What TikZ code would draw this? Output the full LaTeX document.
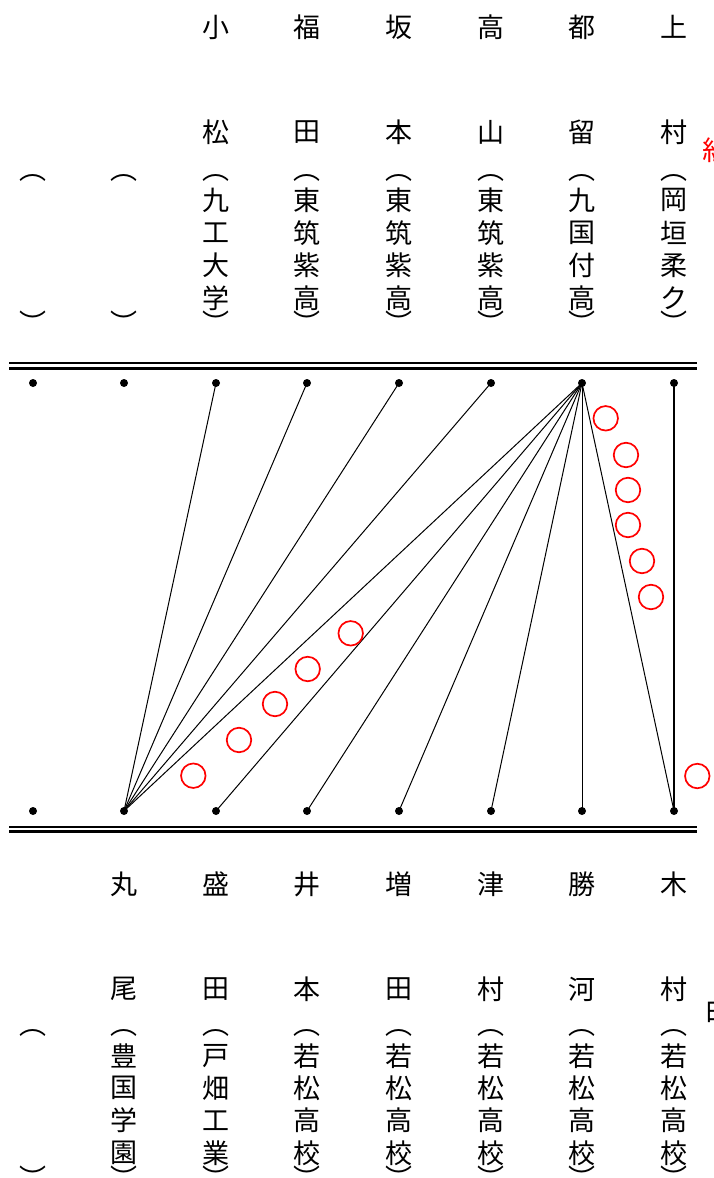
\documentclass[tikz,border=0pt]{standalone}
\usepackage{fontspec}
\newfontfamily\jp{Noto Sans CJK JP}
\tikzset{
  ch/.style={font=\jp\fontsize{27}{27}\selectfont, inner sep=0pt, anchor=center},
  dotnode/.style={circle, fill=black, inner sep=0pt, minimum size=8pt},
  link/.style={line width=1pt},
  thicklink/.style={line width=1.9pt},
  ring/.style={circle, draw=red, line width=1.7pt, minimum size=24.5pt, inner sep=0pt},
  bar/.style={line width=2.4pt}
}
\begin{document}
\begin{tikzpicture}[x=1pt,y=-1pt]
\useasboundingbox (0,0) rectangle (713,1178);

% double lines
\coordinate (tl1) at (9,363);   \coordinate (tr1) at (697,363);
\coordinate (tl2) at (9,368.5); \coordinate (tr2) at (697,368.5);
\coordinate (bl1) at (9,827);   \coordinate (br1) at (697,827);
\coordinate (bl2) at (9,831.5); \coordinate (br2) at (697,831.5);
\draw[bar] (tl1) -- (tr1);
\draw[bar] (tl2) -- (tr2);
\draw[bar] (bl1) -- (br1);
\draw[bar] (bl2) -- (br2);

% dots
\foreach \x [count=\i] in {33,124,216,307,399,491,582,674} {
  \node[dotnode] (t\i) at (\x,383) {};
  \node[dotnode] (b\i) at (\x,811) {};
}

% top names
\foreach \n/\x/\a/\b/\c/\d/\e/\f in {
  3/216/小/松/九/工/大/学,
  4/307/福/田/東/筑/紫/高,
  5/399/坂/本/東/筑/紫/高,
  6/491/高/山/東/筑/紫/高,
  7/582/都/留/九/国/付/高,
  8/674/上/村/岡/垣/柔/ク} {
  \node[ch] (tn\n a) at (\x,27) {\a};
  \node[ch] (tn\n b) at (\x,132) {\b};
  \node[ch] (ts\n a) at (\x,200) {\c};
  \node[ch] (ts\n b) at (\x,233) {\d};
  \node[ch] (ts\n c) at (\x,265.5) {\e};
  \node[ch] (ts\n d) at (\x,298) {\f};
}
\foreach \n/\x in {1/33,2/124,3/216,4/307,5/399,6/491,7/582,8/674} {
  \node[ch] (tpo\n) at (\x,178) {︵};
  \node[ch] (tpc\n) at (\x,322) {︶};
}

% bottom names
\foreach \n/\x/\a/\b/\c/\d/\e/\f in {
  2/124/丸/尾/豊/国/学/園,
  3/216/盛/田/戸/畑/工/業,
  4/307/井/本/若/松/高/校,
  5/399/増/田/若/松/高/校,
  6/491/津/村/若/松/高/校,
  7/582/勝/河/若/松/高/校,
  8/674/木/村/若/松/高/校} {
  \node[ch] (bn\n a) at (\x,884) {\a};
  \node[ch] (bn\n b) at (\x,989) {\b};
  \node[ch] (bs\n a) at (\x,1056) {\c};
  \node[ch] (bs\n b) at (\x,1088) {\d};
  \node[ch] (bs\n c) at (\x,1120.5) {\e};
  \node[ch] (bs\n d) at (\x,1153) {\f};
}
\foreach \n/\x in {1/33,2/124,3/216,4/307,5/399,6/491,7/582,8/674} {
  \node[ch] (bpo\n) at (\x,1033) {︵};
  \node[ch] (bpc\n) at (\x,1177) {︶};
}

% side labels (cut off)
\node[ch, text=red] (redlabel) at (716,150) {紅};
\node[ch] (whitelabel) at (718,1010) {白};

% connectors
\foreach \j in {2,...,8} { \draw[link] (t7.center) -- (b\j.center); }
\foreach \i in {3,...,6} { \draw[link] (t\i.center) -- (b2.center); }
\draw[thicklink] (t8.center) -- (b8.center);

% red rings
\foreach \x/\y [count=\k] in {193.3/775.7, 239/740, 275/704, 307.7/669, 350.7/633.3,
   605.7/418.3, 626/455, 628/490, 628/525, 642/561, 651/597, 697.3/776} {
  \node[ring] (r\k) at (\x,\y) {};
}
\end{tikzpicture}
\end{document}
